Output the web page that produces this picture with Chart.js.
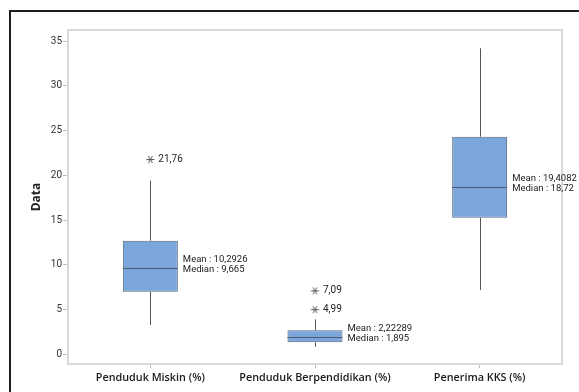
<!DOCTYPE html>
<html>
<head>
<meta charset="utf-8">
<script src="https://cdn.jsdelivr.net/npm/chart.js@4"></script>
<style>
  html, body { margin: 0; padding: 0; background: #fff; overflow: hidden; }
  #wrap { position: relative; width: 579px; height: 392px; }
  #chart { position: absolute; left: 0; top: 0; }
  #frame { position: absolute; left: 9px; top: 10px; width: 600px; height: 420px;
           border-left: 2px solid #1e1e1e; border-top: 2px solid #1e1e1e; pointer-events: none; }
</style>
</head>
<body>
<div id="wrap">
  <canvas id="chart" width="579" height="392"></canvas>
  <div id="frame"></div>
</div>
<script>
// Box plot summary per variable
const categories = ['Penduduk Miskin (%)', 'Penduduk Berpendidikan (%)', 'Penerima KKS (%)'];
const q1Values = [6.99, 1.34, 15.26];
const q3Values = [12.69, 2.68, 24.31];
const medianValues = [9.665, 1.895, 18.72];
const meanValues = [10.2926, 2.22289, 19.4082];
const whiskerLow = [3.27, 0.85, 7.18];
const whiskerHigh = [19.40, 3.91, 34.19];
const outlierValues = [[21.76], [4.99, 7.09], []];
const yTicks = [0, 5, 10, 15, 20, 25, 30, 35];

const LABEL_FONT = "'Open Sans', 'Noto Sans', sans-serif";
const NOTE_FONT = "Roboto, 'Noto Sans', sans-serif";
const fmt = v => String(v).replace('.', ',');

// asterisk marker used for outliers
function makeAsterisk() {
  const c = document.createElement('canvas');
  c.width = 11; c.height = 11;
  const g = c.getContext('2d');
  g.strokeStyle = '#555';
  g.lineWidth = 1;
  const cx = 5.5, cy = 5.5, r = 4;
  g.beginPath();
  for (const a of [0, Math.PI / 3, -Math.PI / 3]) {
    g.moveTo(cx - r * Math.cos(a), cy - r * Math.sin(a));
    g.lineTo(cx + r * Math.cos(a), cy + r * Math.sin(a));
  }
  g.stroke();
  return c;
}

const outlierPoints = [];
outlierValues.forEach((vals, i) => vals.forEach(v => outlierPoints.push({ x: categories[i], y: v })));

// whiskers, medians, plot frame and text annotations
const boxExtras = {
  id: 'boxExtras',
  beforeDatasetsDraw(chart) {
    const { ctx, chartArea: a, scales: { x, y } } = chart;
    ctx.save();
    ctx.strokeStyle = '#d9d9d9';
    ctx.lineWidth = 2;
    ctx.strokeRect(a.left, a.top, a.right - a.left, a.bottom - a.top);
    ctx.strokeStyle = '#555';
    ctx.lineWidth = 1;
    categories.forEach((c, i) => {
      const px = Math.round(x.getPixelForValue(i)) + 0.5;
      ctx.beginPath();
      ctx.moveTo(px, y.getPixelForValue(whiskerHigh[i]));
      ctx.lineTo(px, y.getPixelForValue(q3Values[i]));
      ctx.moveTo(px, y.getPixelForValue(q1Values[i]));
      ctx.lineTo(px, y.getPixelForValue(whiskerLow[i]));
      ctx.stroke();
    });
    ctx.restore();
  },
  afterDatasetsDraw(chart) {
    const { ctx, scales: { x, y } } = chart;
    const bars = chart.getDatasetMeta(0).data;
    ctx.save();
    categories.forEach((c, i) => {
      const bar = bars[i];
      const left = bar.x - bar.width / 2, right = bar.x + bar.width / 2;
      const my = Math.round(y.getPixelForValue(medianValues[i])) + 0.5;
      ctx.strokeStyle = '#4d5a6a';
      ctx.lineWidth = 1;
      ctx.beginPath();
      ctx.moveTo(left, my);
      ctx.lineTo(right, my);
      ctx.stroke();
      ctx.fillStyle = '#222';
      ctx.font = '9.5px ' + NOTE_FONT;
      ctx.textAlign = 'left';
      ctx.textBaseline = 'middle';
      ctx.fillText('Mean : ' + fmt(meanValues[i]), right + 5, my - 9);
      ctx.fillText('Median : ' + fmt(medianValues[i]), right + 5, my + 1);
      ctx.font = '10px ' + NOTE_FONT;
      outlierValues[i].forEach(v => {
        ctx.fillText(fmt(v), bar.x + 8, y.getPixelForValue(v));
      });
    });
    ctx.restore();
  }
};

new Chart(document.getElementById('chart'), {
  type: 'bar',
  data: {
    labels: categories,
    datasets: [
      {
        label: 'Box',
        data: categories.map((c, i) => [q1Values[i], q3Values[i]]),
        backgroundColor: '#7ba6dc',
        borderColor: '#56657a',
        borderWidth: 1,
        borderSkipped: false,
        categoryPercentage: 1,
        barPercentage: 0.334
      },
      {
        type: 'line',
        label: 'Outlier',
        data: outlierPoints,
        showLine: false,
        pointStyle: makeAsterisk(),
        pointRadius: 5
      }
    ]
  },
  options: {
    responsive: false,
    animation: false,
    events: [],
    layout: { padding: { left: 0, top: 30, right: 17, bottom: 0 } },
    plugins: { legend: { display: false }, tooltip: { enabled: false } },
    scales: {
      x: {
        offset: true,
        grid: { drawOnChartArea: false, drawTicks: true, tickLength: 4, color: '#bdbdbd', offset: false },
        border: { display: false },
        ticks: { color: '#1a1a1a', font: { family: LABEL_FONT, size: 10.8, weight: '600' }, padding: 3, maxRotation: 0, autoSkip: false },
        afterFit: s => { s.height = 28; }
      },
      y: {
        min: -1.08,
        max: 36.23,
        grid: { drawOnChartArea: false, drawTicks: true, tickLength: 5, color: '#bdbdbd' },
        border: { display: false },
        afterBuildTicks: s => { s.ticks = yTicks.map(v => ({ value: v })); },
        ticks: { color: '#333', font: { family: NOTE_FONT, size: 10 }, padding: 1 },
        title: { display: true, text: 'Data', color: '#222', font: { family: LABEL_FONT, size: 12, weight: 'bold' }, padding: { top: 29, bottom: 0 } },
        afterFit: s => { s.width = 68; }
      }
    }
  },
  plugins: [boxExtras]
});
</script>
</body>
</html>
